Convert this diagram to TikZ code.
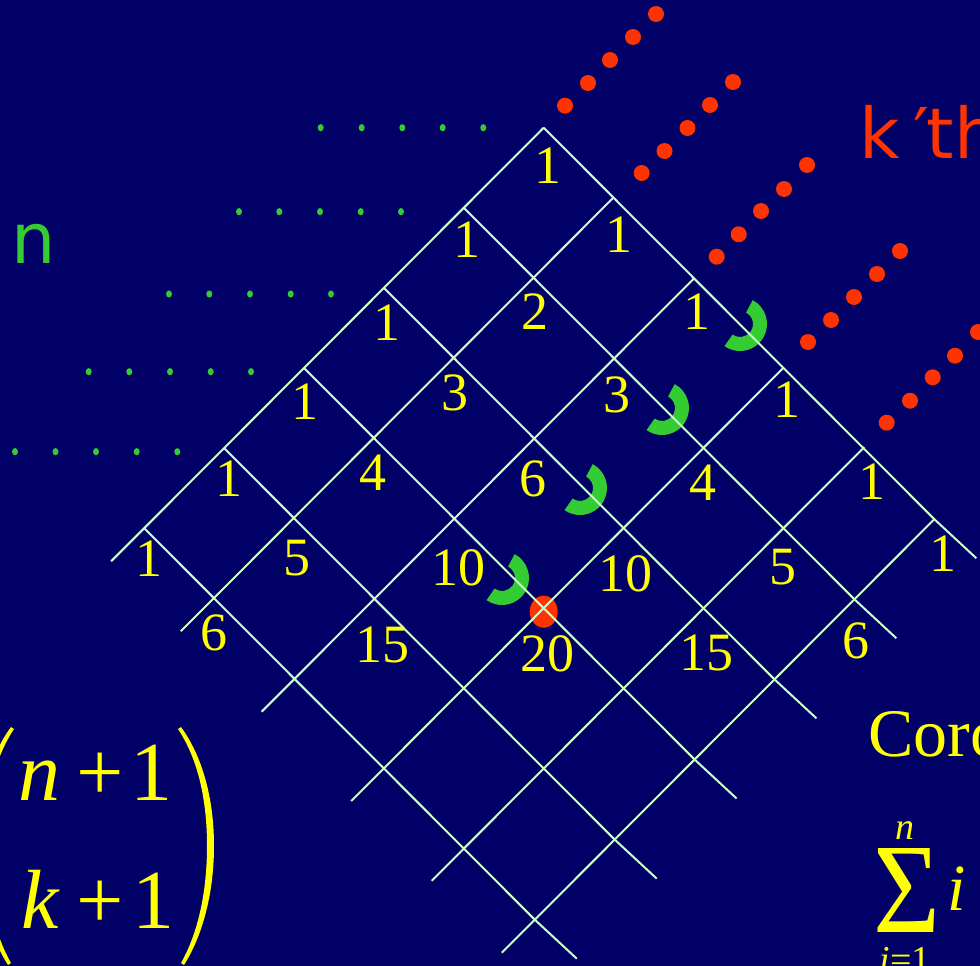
\documentclass[tikz,border=0pt]{standalone}
\usepackage{fontspec}
\setmainfont{Liberation Serif}
\newfontfamily\dejavu{DejaVu Sans}
\usepackage{graphicx}
\definecolor{navybg}{RGB}{0,0,102}
\definecolor{gridc}{RGB}{204,255,204}
\definecolor{ylw}{RGB}{255,255,0}
\definecolor{grn}{RGB}{51,204,51}
\definecolor{rdd}{RGB}{255,51,0}
\tikzset{
  gridline/.style={draw=gridc, line width=2pt},
  num/.style={text=ylw, font=\fontsize{54}{60}\selectfont, inner sep=0pt},
  binfont/.style={text=ylw, inner sep=0pt, anchor=base, font=\fontsize{84}{90}\selectfont},
  gdot/.style={fill=grn},
  rdot/.style={fill=rdd},
  garc/.style={fill=grn},
  yparen/.style={fill=ylw},
}
\begin{document}
\begin{tikzpicture}[x=1pt,y=-1pt]
\useasboundingbox (0,0) rectangle (980,966);
\fill[navybg] (0,0) rectangle (980,966);
\clip (0,0) rectangle (980,966);

% lattice points
\foreach \j/\sx/\sy in {0/0/0,1/69.6/70,2/150.5/150.5,3/240/239.8,4/320.5/319.5,5/390.6/391.5}{
  \foreach \i in {0,...,5}{
    \coordinate (P\i\j) at ({543.7-79.9*\i+\sx},{127.7+80.1*\i+\sy});
  }
}

% red point at the 20
\fill[rdot] (543.7,611.7) ellipse[x radius=14, y radius=16];

% green arcs
\foreach \cx/\cy [count=\k] in {740/324,662/408,580/488,502/578}{
  \fill[garc, shift={(\cx,\cy)}] (-62:27) arc[start angle=-62, end angle=125, radius=27]
     -- (125:13) arc[start angle=125, end angle=-62, radius=13] -- cycle;
}

% grid
\foreach \j in {0,...,5}{ \draw[gridline] (P0\j) -- (P5\j) -- ++(-33,33); }
\foreach \i in {0,...,5}{ \draw[gridline] (P\i0) -- (P\i5) -- ++(42,39); }

% numbers
\foreach \nm/\x/\y/\t in {
 00/548.3/165.7/1, 10/466.7/240/1, 01/619/235/1,
 11/535/311.7/2, 20/387.3/322.7/1, 02/696.7/311.7/1,
 30/305/401.7/1, 21/455/392.7/3, 12/617/395/3, 03/786.7/400/1,
 40/229.3/478.3/1, 31/373.3/472.7/4, 22/533.3/479.3/6, 13/703/483/4, 04/871.7/481.7/1,
 50/149.3/558.3/1, 41/296.7/558.3/5, 32/458.3/568.3/10, 23/625/574/10, 14/783/567/5, 05/943.3/553.3/1,
 51/214/632.7/6, 42/382.7/645/15, 33/547.3/654/20, 24/706.3/652.7/15, 15/855.8/641/6}{
  \node[num] (n\nm) at (\x,\y) {\t};
}

% green dotted rows
\foreach \y/\xs in {127.7/{320.7,361.7,402.3,442.7,483.3},
                    211.7/{239,279.3,320,360.7,401},
                    294/{169,209.3,250,290.7,331},
                    371.7/{88.7,129.3,170,210.7,251},
                    451.7/{15,55.5,96,136.7,177.3}}{
  \foreach \x in \xs { \fill[gdot] (\x,\y) ellipse[x radius=3, y radius=3.6]; }
}

% red dotted diagonals
\foreach \x/\y in {656/14,633/37,610/60,588/83,565/105.7,
                   733/82,710/105,687.5/128,664.5/151,641.7/173,
                   807/165,784/189,761/211,738.7/234.3,716.7/256.7,
                   900/251,877/274,854/297,831/320,808/342,
                   978/332,955/355.7,932.7/377.3,910/400.7,886.7/422.7}{
  \fill[rdot] (\x,\y) circle[radius=8];
}

% labels
\node[anchor=base west, inner sep=0pt, text=rdd, font=\dejavu\fontsize{70}{80}\selectfont] (kth) at (859,158) {k\kern14pt′\kern-3pt th};
\node[anchor=base west, inner sep=0pt, text=grn, font=\dejavu\fontsize{70}{80}\selectfont] (nlab) at (11,263.3) {n};
\node[anchor=base west, inner sep=0pt, text=ylw, font=\fontsize{68}{76}\selectfont] (coro) at (868,756) {Coro};

% binomial
\node[binfont, font=\fontsize{84}{90}\selectfont\itshape] (bn) at (40,800) {n};
\node[binfont] (bp1) at (100.5,800) {+};
\node[binfont] (b11) at (151,800) {1};
\node[binfont, font=\fontsize{84}{90}\selectfont\itshape] (bk) at (40,928) {k};
\node[binfont] (bp2) at (100.5,928) {+};
\node[binfont] (b12) at (153,928) {1};
\fill[yparen] (181,727) .. controls (203,757) and (214,800) .. (214,846)
   .. controls (214,892) and (203,935) .. (184,965) -- (181,963)
   .. controls (198,933) and (207,892) .. (207,846)
   .. controls (207,800) and (198,759) .. (178,729) -- cycle;
\fill[yparen] (11,727) .. controls (-11,757) and (-22,800) .. (-22,846)
   .. controls (-22,892) and (-11,935) .. (8,965) -- (11,963)
   .. controls (-6,933) and (-15,892) .. (-15,846)
   .. controls (-15,800) and (-6,759) .. (14,729) -- cycle;

% sum
\node[text=ylw, inner sep=0pt] (sig) at (906.5,890) {\resizebox*{67pt}{84pt}{Σ}};
\node[anchor=base, inner sep=0pt, text=ylw, font=\fontsize{38}{44}\selectfont\itshape] (supn) at (905,839) {n};
\node[anchor=base, inner sep=0pt, text=ylw, font=\fontsize{66}{72}\selectfont\itshape] (sumi) at (957,910) {i};
\node[anchor=base, inner sep=0pt, text=ylw, font=\fontsize{38}{44}\selectfont] (subi) at (905,972) {\textit{i}=1};
\end{tikzpicture}
\end{document}
